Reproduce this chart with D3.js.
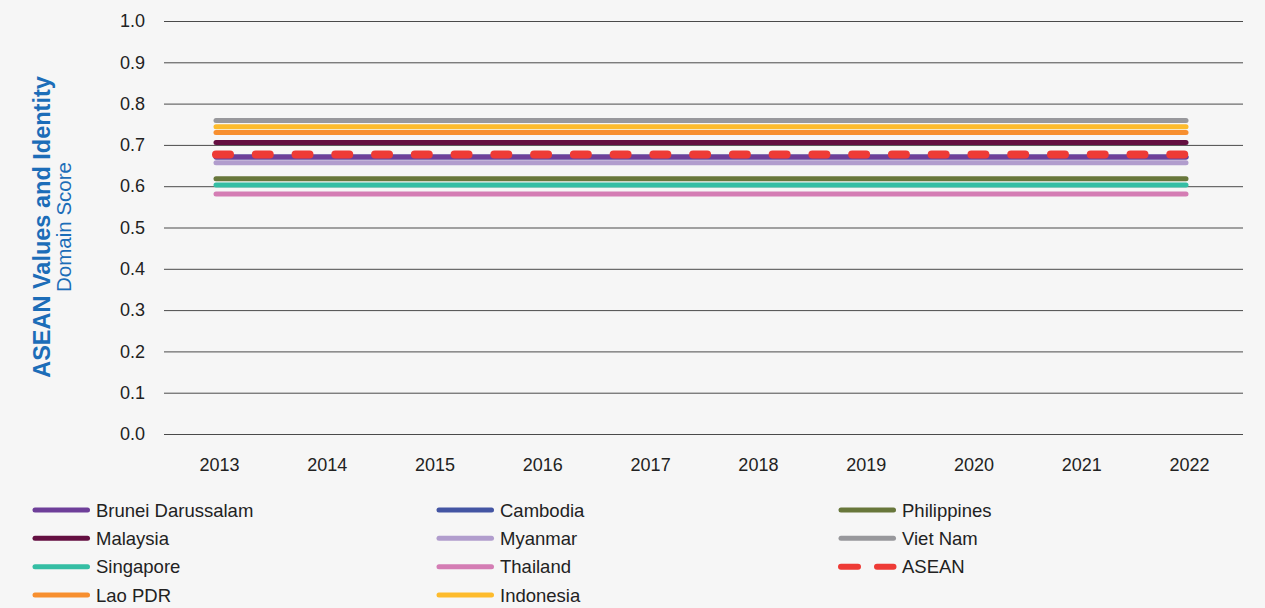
<!DOCTYPE html>
<html>
<head>
<meta charset="utf-8">
<script src="https://cdn.jsdelivr.net/npm/d3@7"></script>
<style>
  html, body { margin: 0; padding: 0; background: #f6f6f6; }
  svg { display: block; font-family: "Liberation Sans", Arial, Helvetica, sans-serif; }
</style>
</head>
<body>
<div id="chart"></div>
<script>
// data (flat across all years)
const years = ['2013', '2014', '2015', '2016', '2017', '2018', '2019', '2020', '2021', '2022'];
const yTicks = [0, 0.1, 0.2, 0.3, 0.4, 0.5, 0.6, 0.7, 0.8, 0.9, 1.0];
const seriesNames = ['Brunei Darussalam', 'Cambodia', 'Philippines', 'Malaysia', 'Myanmar', 'Viet Nam',
                     'Singapore', 'Thailand', 'ASEAN', 'Lao PDR', 'Indonesia'];
const bruneiVals      = [0.671, 0.671, 0.671, 0.671, 0.671, 0.671, 0.671, 0.671, 0.671, 0.671];
const cambodiaVals    = [0.671, 0.671, 0.671, 0.671, 0.671, 0.671, 0.671, 0.671, 0.671, 0.671];
const philippinesVals = [0.618, 0.618, 0.618, 0.618, 0.618, 0.618, 0.618, 0.618, 0.618, 0.618];
const malaysiaVals    = [0.706, 0.706, 0.706, 0.706, 0.706, 0.706, 0.706, 0.706, 0.706, 0.706];
const myanmarVals     = [0.657, 0.657, 0.657, 0.657, 0.657, 0.657, 0.657, 0.657, 0.657, 0.657];
const vietnamVals     = [0.759, 0.759, 0.759, 0.759, 0.759, 0.759, 0.759, 0.759, 0.759, 0.759];
const singaporeVals   = [0.603, 0.603, 0.603, 0.603, 0.603, 0.603, 0.603, 0.603, 0.603, 0.603];
const thailandVals    = [0.581, 0.581, 0.581, 0.581, 0.581, 0.581, 0.581, 0.581, 0.581, 0.581];
const aseanVals       = [0.677, 0.677, 0.677, 0.677, 0.677, 0.677, 0.677, 0.677, 0.677, 0.677];
const laoVals         = [0.730, 0.730, 0.730, 0.730, 0.730, 0.730, 0.730, 0.730, 0.730, 0.730];
const indonesiaVals   = [0.744, 0.744, 0.744, 0.744, 0.744, 0.744, 0.744, 0.744, 0.744, 0.744];

const colors = {
    'Brunei Darussalam': '#6e3f99', 'Cambodia': '#4455a3', 'Philippines': '#68773b',
    'Malaysia': '#640f41', 'Myanmar': '#b19dcd', 'Viet Nam': '#98989c',
    'Singapore': '#35bea4', 'Thailand': '#d47db4', 'ASEAN': '#ee3b36',
    'Lao PDR': '#f78f2f', 'Indonesia': '#fdbb2c'
};
const valuesByName = {
    'Brunei Darussalam': bruneiVals, 'Cambodia': cambodiaVals, 'Philippines': philippinesVals,
    'Malaysia': malaysiaVals, 'Myanmar': myanmarVals, 'Viet Nam': vietnamVals,
    'Singapore': singaporeVals, 'Thailand': thailandVals, 'ASEAN': aseanVals,
    'Lao PDR': laoVals, 'Indonesia': indonesiaVals
};
// drawing order (ASEAN on top)
const drawOrder = ['Thailand', 'Singapore', 'Philippines', 'Myanmar', 'Cambodia', 'Brunei Darussalam',
                   'Malaysia', 'Lao PDR', 'Indonesia', 'Viet Nam', 'ASEAN'];

const width = 1265, height = 608;
const margin = { top: 21, left: 164, right: 22, bottom: 174 };
const plotW = width - margin.left - margin.right;
const plotH = height - margin.top - margin.bottom;

const svg = d3.select('#chart').append('svg')
    .attr('width', width)
    .attr('height', height);

svg.append('rect').attr('width', width).attr('height', height).attr('fill', '#f6f6f6');

const chart = svg.append('g')
    .attr('transform', `translate(${margin.left}, ${margin.top})`);

const xScale = d3.scalePoint().domain(years).range([52, 1022]);
const yScale = d3.scaleLinear().domain([0, 1]).range([plotH, 0]);

// y axis with gridlines
const yAxis = chart.append('g')
    .attr('class', 'axis axis-y')
    .call(d3.axisLeft(yScale).tickValues(yTicks).tickSize(-plotW).tickPadding(19).tickFormat(d3.format('.1f')));
yAxis.select('.domain').remove();
yAxis.selectAll('.tick line').attr('stroke', '#4a4a4a').attr('stroke-width', 1);
yAxis.selectAll('.tick text').attr('font-size', 18).attr('fill', '#222');

// x axis
const xAxis = chart.append('g')
    .attr('class', 'axis axis-x')
    .attr('transform', `translate(0, ${plotH})`)
    .call(d3.axisBottom(xScale).tickSize(0).tickPadding(24));
xAxis.select('.domain').remove();
xAxis.selectAll('.tick text').attr('font-size', 18).attr('fill', '#222').attr('dx', 3);

// lines
const line = d3.line()
    .x((d, i) => xScale(years[i]))
    .y(d => yScale(d));

drawOrder.forEach(name => {
    const isAsean = name === 'ASEAN';
    chart.append('path')
        .datum(valuesByName[name])
        .attr('fill', 'none')
        .attr('stroke', colors[name])
        .attr('stroke-width', isAsean ? 8 : 5)
        .attr('stroke-linecap', 'round')
        .attr('stroke-dasharray', isAsean ? '14 25.76' : null)
        .attr('d', line);
});

// y axis title
const title = svg.append('g').attr('transform', 'translate(0, 227) rotate(-90)');
title.append('text')
    .attr('x', 0).attr('y', 50)
    .attr('text-anchor', 'middle')
    .attr('font-size', 23.5).attr('font-weight', 'bold')
    .attr('fill', '#1c6db8')
    .text('ASEAN Values and Identity');
title.append('text')
    .attr('x', 0).attr('y', 71)
    .attr('text-anchor', 'middle')
    .attr('font-size', 20.5)
    .attr('fill', '#1c6db8')
    .text('Domain Score');

// legend
const legendCols = [32, 436, 838];
const legendRows = [510, 538.3, 566.7, 595];
const legend = svg.append('g').attr('class', 'legend');
seriesNames.forEach((name, i) => {
    const g = legend.append('g')
        .attr('transform', `translate(${legendCols[i % 3]}, ${legendRows[Math.floor(i / 3)]})`);
    const isAsean = name === 'ASEAN';
    g.append('line')
        .attr('x1', 3).attr('x2', 55.5)
        .attr('stroke', colors[name])
        .attr('stroke-width', isAsean ? 6 : 5)
        .attr('stroke-linecap', 'round')
        .attr('stroke-dasharray', isAsean ? '17 19' : null);
    g.append('text')
        .attr('x', 64).attr('y', 6.7)
        .attr('font-size', 18.5)
        .attr('fill', '#222')
        .text(name);
});
</script>
</body>
</html>
